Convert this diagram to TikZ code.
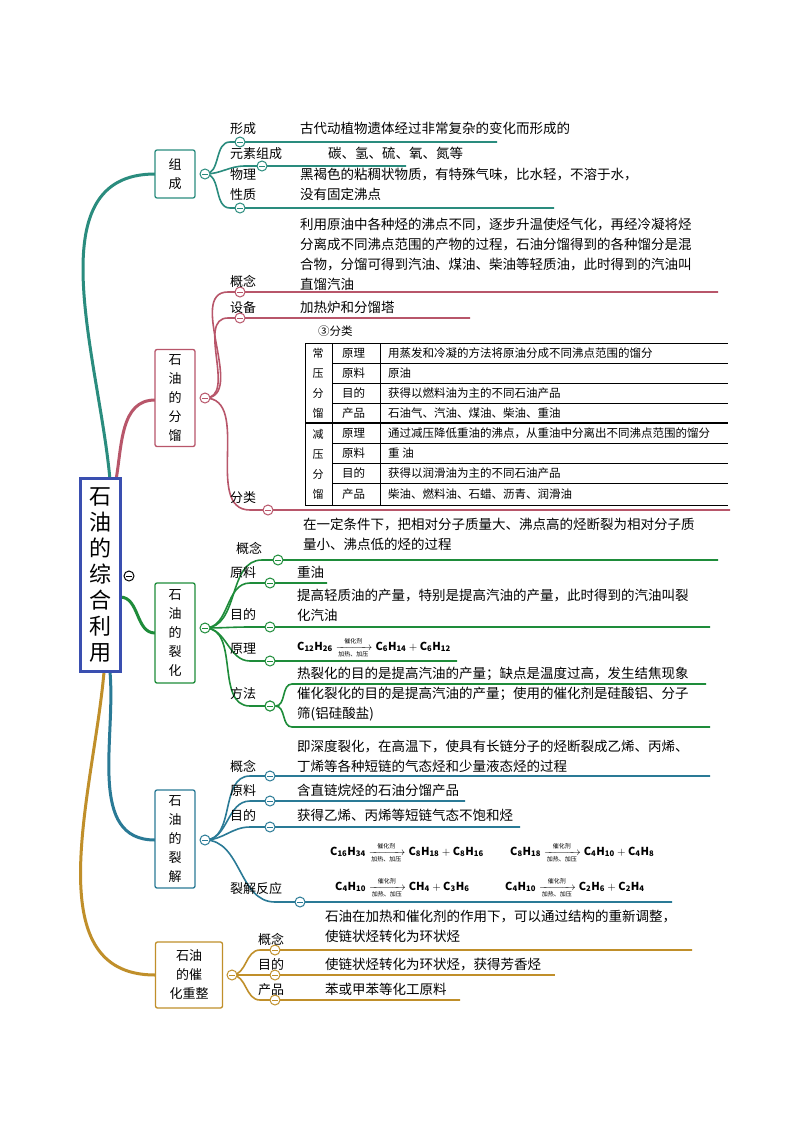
\documentclass[tikz,border=0pt]{standalone}
\usepackage{fontspec}
\usepackage{amsmath}
\setmainfont{Noto Sans CJK SC}
\usetikzlibrary{calc}
\definecolor{cA}{HTML}{2A8C7E}
\definecolor{cB}{HTML}{B8566A}
\definecolor{cC}{HTML}{1E8C3A}
\definecolor{cD}{HTML}{2A7A96}
\definecolor{cE}{HTML}{C08F2A}
\definecolor{cR}{HTML}{3A4FB0}
\newcommand\rx[2]{\mathrel{\xrightarrow[\text{\fontsize{6}{7}\selectfont 加热、加压}]{\text{\fontsize{6}{7}\selectfont 催化剂}}}}
\newcommand\mysub[7]{% color, parent, name, startx, circlex, y, endx
  \draw[#1,line width=1.6pt] (#2) to[out=0,in=180] (#4,#6) -- (#7,#6) coordinate (#3e);
  \node[coll=#1] (#3) at (#5,#6) {};
}
\tikzset{
  coll/.style={circle,draw=#1,fill=white,line width=1pt,inner sep=0pt,minimum size=10pt,
    path picture={\draw[#1,line width=0.8pt] ([xshift=-3pt]path picture bounding box.center)--([xshift=3pt]path picture bounding box.center);}},
  box/.style={draw=#1,line width=1.3pt,rounded corners=2pt,fill=white,inner sep=0pt,align=center,font=\fontsize{13}{19}\selectfont},
  lab/.style={anchor=base west,font=\fontsize{13}{16}\selectfont,inner sep=0pt},
  txt/.style={anchor=base west,font=\fontsize{13.5}{20}\selectfont,inner sep=0pt,align=left},
  mtxt/.style={anchor=north west,font=\fontsize{13.5}{20}\selectfont,inner sep=0pt,align=left,yshift=4pt},
  tb/.style={anchor=base west,font=\fontsize{11.5}{14}\selectfont,inner sep=0pt},
  eq/.style={anchor=base west,inner sep=0pt,font=\fontsize{11}{13}\selectfont},
  br/.style={line width=3pt},
}
\begin{document}
\begin{tikzpicture}[x=1pt,y=-1pt]
\useasboundingbox[fill=white] (0,0) rectangle (800,1132);
% root branches
\draw[cA,br] (110,480) to[out=95,in=180] (155,174);
\draw[cB,br] (116,480) to[out=80,in=180] (155,400);
\draw[cC,br] (120,597) to[out=0,in=180] (155,633);
\draw[cD,br] (110,672) to[out=-85,in=180] (155,840);
\draw[cE,br] (104,672) to[out=-95,in=180] (155,975);
\node[draw=cR,line width=3pt,fill=white,minimum width=40pt,minimum height=193pt,inner sep=0pt,align=center,font=\fontsize{22}{26}\selectfont] (root) at (100,575) {石\\油\\的\\综\\合\\利\\用};
\node[coll=black] (rootc) at (129,576) {};
% ===== 组成
\node[box=cA,minimum width=40pt,minimum height=48pt] (b1) at (175,174) {组\\成};
\coordinate (p1) at (205,174);
\mysub{cA}{p1}{a1}{230}{240}{142}{497}
\mysub{cA}{p1}{a2}{245}{262}{166}{406}
\mysub{cA}{p1}{a3}{230}{240}{208}{554}
\node[coll=cA] (c1) at (205,174) {};
\node[lab] (a1t) at (230,133) {形成};
\node[txt] (a1c) at (300,133) {古代动植物遗体经过非常复杂的变化而形成的};
\node[lab] (a2t) at (230,158) {元素组成};
\node[txt] (a2c) at (328,158) {碳、氢、硫、氧、氮等};
\node[mtxt,font=\fontsize{13}{20}\selectfont] (a3t) at (230,172) {物理\\性质};
\node[mtxt,font=\fontsize{13.5}{20}\selectfont] (a3c) at (300,172) {黑褐色的粘稠状物质，有特殊气味，比水轻，不溶于水，\\没有固定沸点};
% ===== 分馏
\node[box=cB,minimum width=40pt,minimum height=97pt] (b2) at (175,398) {石\\油\\的\\分\\馏};
\coordinate (p2) at (205,398);
\mysub{cB}{p2}{f1}{228}{240}{292}{718}
\mysub{cB}{p2}{f2}{228}{240}{318}{470}
\mysub{cB}{p2}{f3}{250}{268}{510}{730}
\node[coll=cB] (c2) at (205,398) {};
\node[lab] (f1t) at (230,286) {概念};
\node[mtxt] (f1c) at (300,222) {利用原油中各种烃的沸点不同，逐步升温使烃气化，再经冷凝将烃\\分离成不同沸点范围的产物的过程，石油分馏得到的各种馏分是混\\合物，分馏可得到汽油、煤油、柴油等轻质油，此时得到的汽油叫\\直馏汽油};
\node[lab] (f2t) at (230,312) {设备};
\node[txt] (f2c) at (300,312) {加热炉和分馏塔};
\node[lab] (f3t) at (230,502) {分类};
% table
\node[tb] (thd) at (318,335) {③分类};
\draw[line width=0.8pt] (305,343) -- (728,343);
\draw[line width=0.8pt] (305,343) -- (305,505) -- (728,505);
\draw[line width=0.8pt] (332,343) -- (332,505);
\draw[line width=0.8pt] (380,343) -- (380,505);
\draw[line width=1.2pt] (305,423) -- (728,423);
\foreach \yy in {363,383,403,443,463,483} \draw[line width=0.6pt] (332,\yy) -- (728,\yy);
\node[align=center,inner sep=0pt,font=\fontsize{11}{20}\selectfont] (tg1) at (318,383) {常\\压\\分\\馏};
\node[align=center,inner sep=0pt,font=\fontsize{11}{20}\selectfont] (tg2) at (318,464) {减\\压\\分\\馏};
\foreach \yy/\a/\b [count=\i] in {357/原理/用蒸发和冷凝的方法将原油分成不同沸点范围的馏分,377/原料/原油,397/目的/获得以燃料油为主的不同石油产品,417/产品/石油气、汽油、煤油、柴油、重油,437/原理/通过减压降低重油的沸点，从重油中分离出不同沸点范围的馏分,457/原料/重 油,477/目的/获得以润滑油为主的不同石油产品,498/产品/柴油、燃料油、石蜡、沥青、润滑油}{
  \node[tb] (tl\i) at (342,\yy) {\a};
  \node[tb] (tr\i) at (388,\yy) {\b};
}
% ===== 裂化
\node[box=cC,minimum width=40pt,minimum height=100pt] (b3) at (175,633) {石\\油\\的\\裂\\化};
\coordinate (p3) at (205,628);
\mysub{cC}{p3}{k1}{262}{278}{560}{718}
\mysub{cC}{p3}{k2}{250}{270}{583}{327}
\mysub{cC}{p3}{k3}{250}{270}{627}{710}
\mysub{cC}{p3}{k4}{250}{270}{661}{457}
\mysub{cC}{p3}{k5}{250}{270}{706}{270}
\node[coll=cC] (c3) at (205,628) {};
\draw[cC,line width=1.6pt] (k5) to[out=0,in=180] (292,684) -- (706,684) coordinate (k6e);
\draw[cC,line width=1.6pt] (k5) to[out=0,in=180] (292,727) -- (710,727) coordinate (k7e);
\node[coll=cC] (k5b) at (270,706) {};
\node[lab] (k1t) at (236,553) {概念};
\node[mtxt] (k1c) at (303,522) {在一定条件下，把相对分子质量大、沸点高的烃断裂为相对分子质\\量小、沸点低的烃的过程};
\node[lab] (k2t) at (230,577) {原料};
\node[txt] (k2c) at (297,577) {重油};
\node[lab] (k3t) at (230,619) {目的};
\node[mtxt] (k3c) at (297,593) {提高轻质油的产量，特别是提高汽油的产量，此时得到的汽油叫裂\\化汽油};
\node[lab] (k4t) at (230,653) {原理};
\node[eq] (k4c) at (297,650) {$\mathbf{C_{12}H_{26}}\rx{}{}\mathbf{C_6H_{14}+C_6H_{12}}$};
\node[lab] (k5t) at (230,698) {方法};
\node[txt] (k6c) at (297,678) {热裂化的目的是提高汽油的产量；缺点是温度过高，发生结焦现象};
\node[mtxt] (k7c) at (297,691) {催化裂化的目的是提高汽油的产量；使用的催化剂是硅酸铝、分子\\筛(铝硅酸盐)};
% ===== 裂解
\node[box=cD,minimum width=40pt,minimum height=98pt] (b4) at (175,839) {石\\油\\的\\裂\\解};
\coordinate (p4) at (205,840);
\mysub{cD}{p4}{j1}{250}{270}{776}{710}
\mysub{cD}{p4}{j2}{250}{270}{801}{465}
\mysub{cD}{p4}{j3}{250}{270}{827}{520}
\mysub{cD}{p4}{j4}{275}{300}{902}{672}
\node[coll=cD] (c4) at (205,840) {};
\node[lab] (j1t) at (230,771) {概念};
\node[mtxt] (j1c) at (297,744) {即深度裂化，在高温下，使具有长链分子的烃断裂成乙烯、丙烯、\\丁烯等各种短链的气态烃和少量液态烃的过程};
\node[lab] (j2t) at (230,795) {原料};
\node[txt] (j2c) at (297,795) {含直链烷烃的石油分馏产品};
\node[lab] (j3t) at (230,820) {目的};
\node[txt] (j3c) at (297,820) {获得乙烯、丙烯等短链气态不饱和烃};
\node[lab] (j4t) at (230,893) {裂解反应};
\node[eq] (e1) at (330,855) {$\mathbf{C_{16}H_{34}}\rx{}{}\mathbf{C_8H_{18}+C_8H_{16}}$};
\node[eq] (e2) at (510,855) {$\mathbf{C_8H_{18}}\rx{}{}\mathbf{C_4H_{10}+C_4H_8}$};
\node[eq] (e3) at (335,890) {$\mathbf{C_4H_{10}}\rx{}{}\mathbf{CH_4+C_3H_6}$};
\node[eq] (e4) at (505,890) {$\mathbf{C_4H_{10}}\rx{}{}\mathbf{C_2H_6+C_2H_4}$};
% ===== 重整
\node[box=cE,minimum width=67pt,minimum height=66pt] (b5) at (189,975) {石油\\的催\\化重整};
\coordinate (p5) at (232,975);
\mysub{cE}{p5}{z1}{260}{275}{950}{692}
\mysub{cE}{p5}{z2}{260}{275}{975}{555}
\mysub{cE}{p5}{z3}{260}{275}{1000}{460}
\node[coll=cE] (c5) at (232,975) {};
\node[lab] (z1t) at (258,944) {概念};
\node[mtxt] (z1c) at (325,914) {石油在加热和催化剂的作用下，可以通过结构的重新调整，\\使链状烃转化为环状烃};
\node[lab] (z2t) at (258,969) {目的};
\node[txt] (z2c) at (325,969) {使链状烃转化为环状烃，获得芳香烃};
\node[lab] (z3t) at (258,994) {产品};
\node[txt] (z3c) at (325,994) {苯或甲苯等化工原料};
\end{tikzpicture}
\end{document}
